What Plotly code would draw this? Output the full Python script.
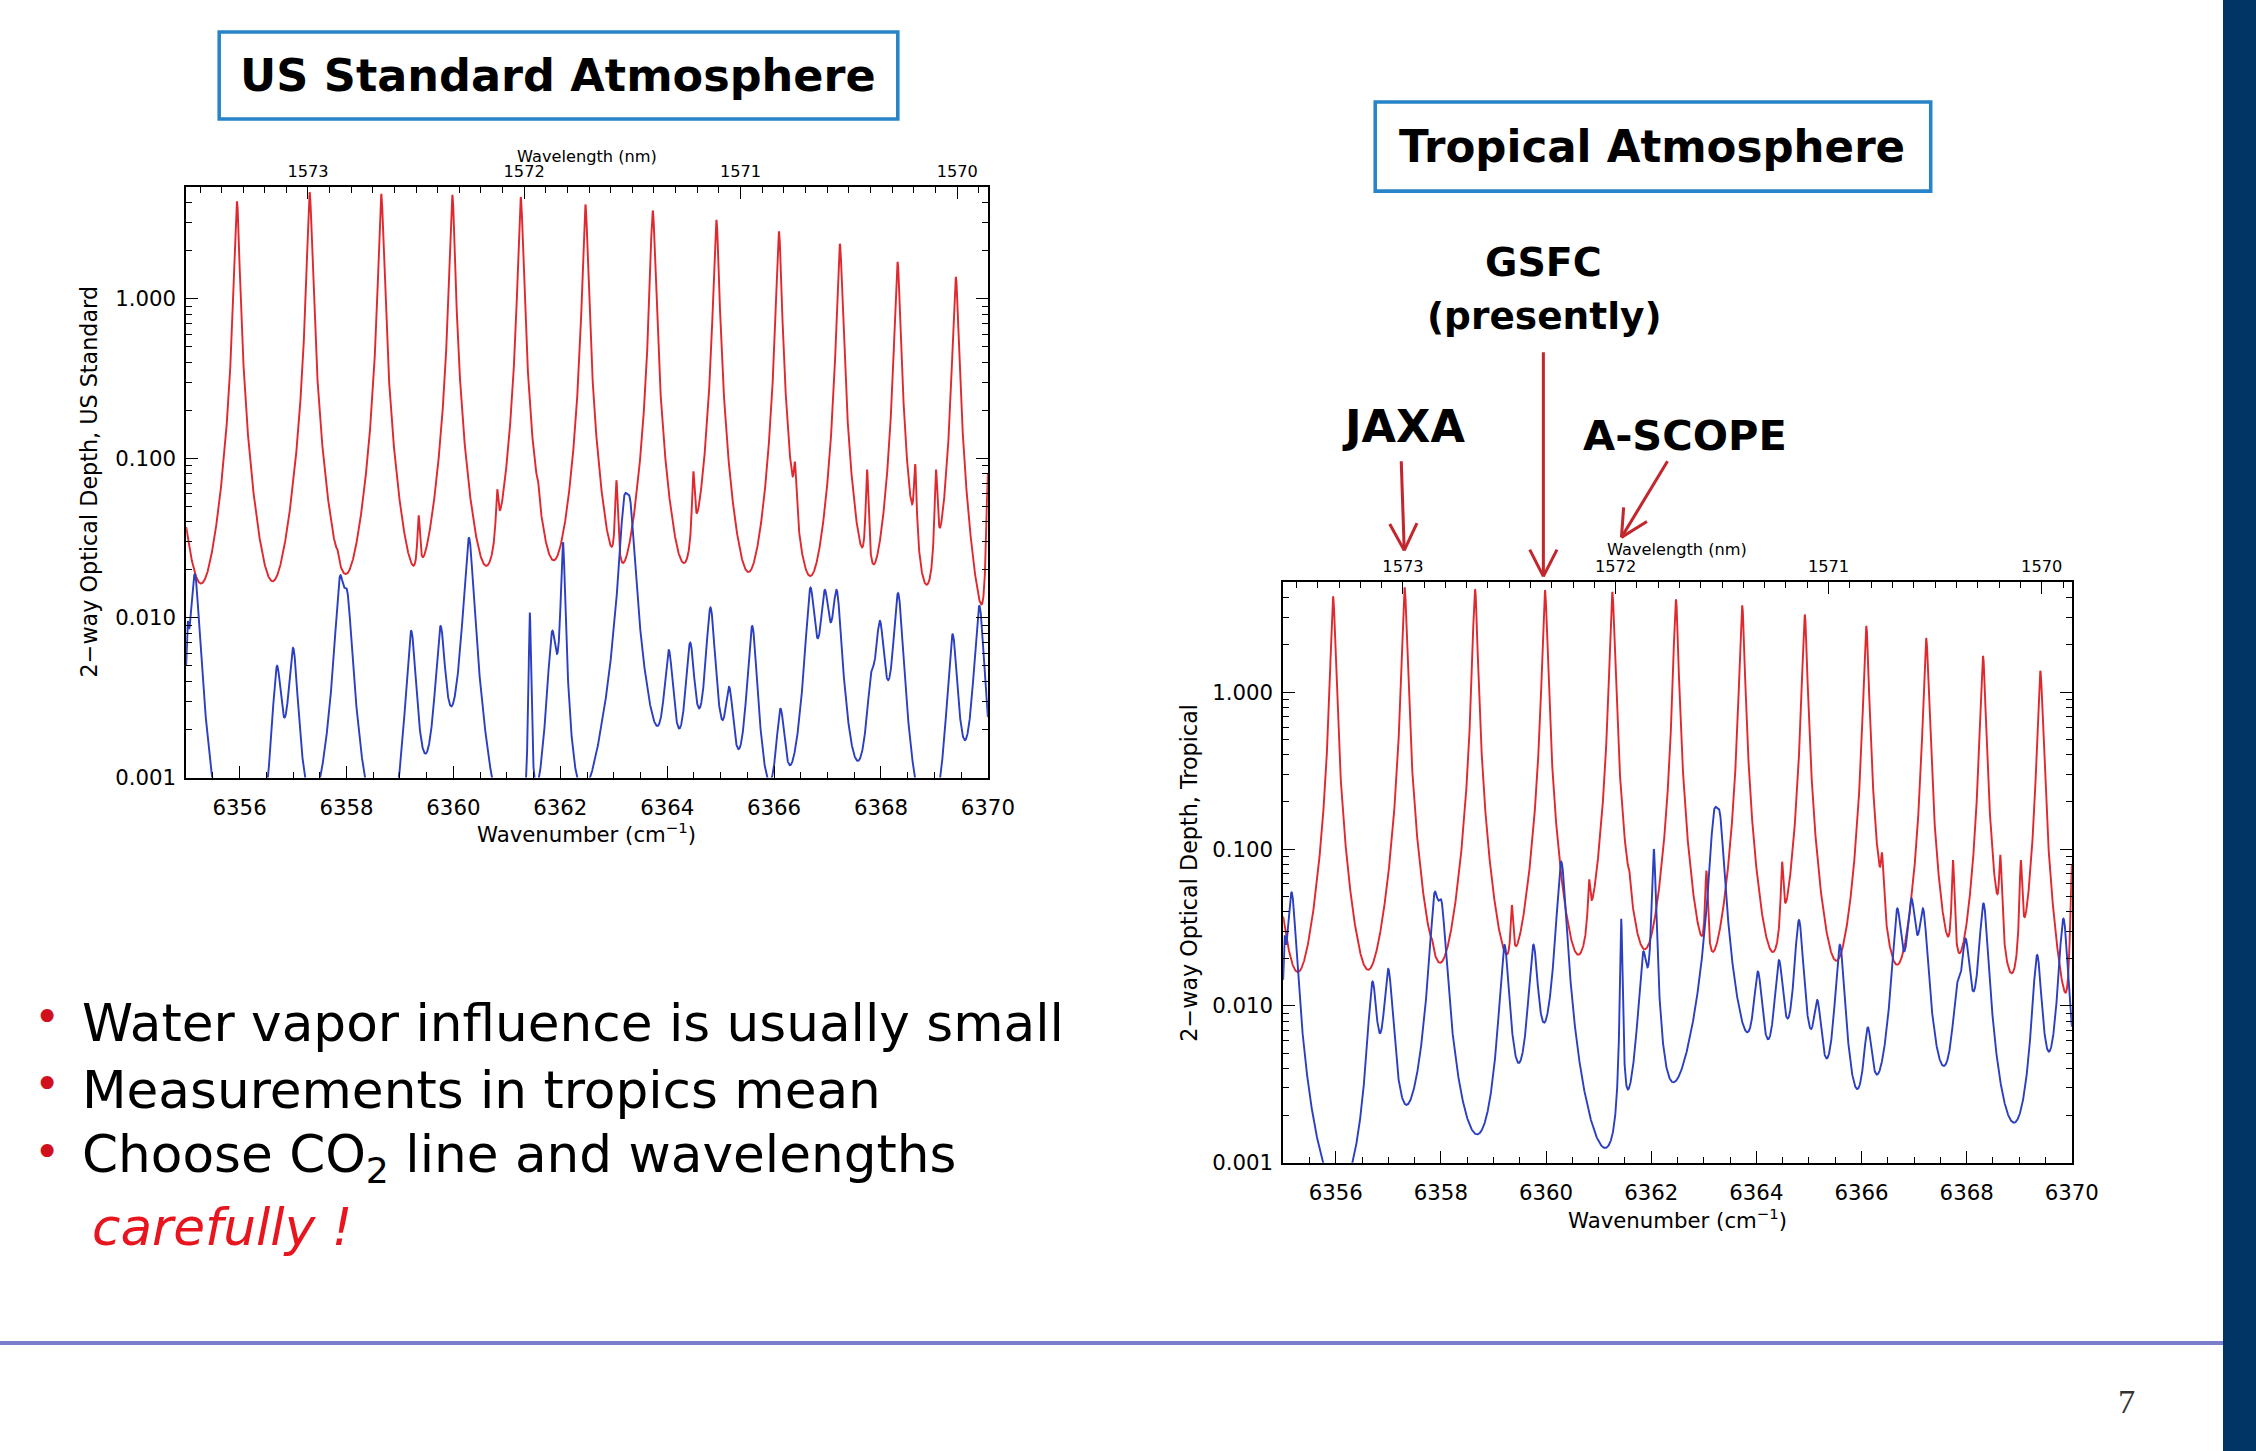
import numpy as np
import plotly.graph_objects as go

# slide layout is written in slide pixels (2256 x 1451); the canvas is a little larger
SW, SH = 2256, 1451
FW, FH = 2285, 1464
FS = FW / SW  # font / stroke scale that goes with the canvas size

# ---------------- spectral line lists ----------------
# CO2 lines: centre (cm-1), two-way optical depth at line centre, Lorentz half width (cm-1)
co2_center = [6354.62, 6355.95, 6357.31, 6358.65, 6359.98, 6361.26, 6362.47,
              6363.73, 6364.92, 6366.09, 6367.23, 6368.31, 6369.40]
co2_peak = [3.80, 4.07, 4.65, 4.53, 4.47, 4.35, 3.90, 3.57, 3.12, 2.64, 2.21, 1.70, 1.37]
co2_width = [0.040, 0.040, 0.040, 0.040, 0.040, 0.040, 0.040,
             0.041, 0.042, 0.042, 0.043, 0.044, 0.045]

# weak CO2 lines riding on the wings of the strong ones
co2_weak_center = [6355.55, 6356.26, 6357.83, 6359.35, 6360.44, 6360.82, 6361.58, 6362.29,
                   6363.05, 6364.49, 6365.91, 6366.39, 6367.74, 6368.64, 6369.03, 6370.00]
co2_weak_peak = [0.035, 0.053, 0.027, 0.044, 0.026, 0.064, 0.075, 0.110,
                 0.073, 0.083, 0.135, 0.095, 0.085, 0.092, 0.085, 0.080]
co2_weak_width = [0.025] * 16

# H2O lines: centres shared by both model atmospheres
h2o_center = [6355.03, 6355.16, 6356.70, 6357.00, 6357.88, 6358.01, 6359.21, 6359.76,
              6360.29, 6361.43, 6361.85, 6362.05, 6363.20, 6363.30, 6364.03, 6364.43,
              6364.81, 6365.16, 6365.59, 6366.12, 6366.68, 6366.95, 6367.17, 6367.82,
              6367.98, 6368.32, 6369.34, 6369.84]
h2o_width = [0.02, 0.08, 0.08, 0.08, 0.08, 0.08, 0.08, 0.08,
             0.08, 0.018, 0.08, 0.035, 0.08, 0.08, 0.08, 0.08,
             0.08, 0.08, 0.08, 0.08, 0.08, 0.08, 0.08, 0.08,
             0.08, 0.08, 0.08, 0.08]
# optical depth at line centre, US Standard atmosphere
h2o_peak_usstd = [0.0095, 0.0188, 0.0050, 0.0065, 0.0184, 0.0150, 0.0083, 0.0089,
                  0.0318, 0.0108, 0.0083, 0.0298, 0.0590, 0.0570, 0.0063, 0.0070,
                  0.0116, 0.0037, 0.0089, 0.0027, 0.0155, 0.0150, 0.0150, 0.0046,
                  0.0096, 0.0143, 0.0079, 0.0119]
# optical depth at line centre, Tropical atmosphere
h2o_peak_trop = [0.0280, 0.0530, 0.0143, 0.0172, 0.0530, 0.0470, 0.0245, 0.0246,
                 0.0830, 0.0360, 0.0222, 0.1000, 0.1800, 0.1750, 0.0166, 0.0196,
                 0.0352, 0.0109, 0.0245, 0.0073, 0.0418, 0.0484, 0.0418, 0.0140,
                 0.0269, 0.0450, 0.0211, 0.0360]

# axis ticks
wn_range = [6355, 6370]
wl_ticks = [1573, 1572, 1571, 1570]
od_ticks = [0.001, 0.01, 0.1, 1.0]
od_ticktext = ["0.001", "0.010", "0.100", "1.000"]


# ---------------- line-by-line model ----------------
def line_shape(d, g, cutoff):
    # Lorentz profile with a sub-Lorentzian far-wing factor
    return g ** 2 / (d ** 2 + g ** 2) * np.exp(-(d / cutoff) ** 2)


def fit_strengths(centers, peaks, widths, cutoff):
    c = np.asarray(centers, float)
    p = np.asarray(peaks, float)
    g = np.asarray(widths, float)
    M = line_shape(c[:, None] - c[None, :], g[None, :], cutoff)
    a = p.copy()
    for _ in range(600):
        a = a * p / (M @ a)
    return a


def spectrum(nu, centers, peaks, widths, cutoff):
    a = fit_strengths(centers, peaks, widths, cutoff)
    c = np.asarray(centers, float)
    g = np.asarray(widths, float)
    return (a[None, :] * line_shape(nu[:, None] - c[None, :], g[None, :], cutoff)).sum(axis=1)


all_centers = co2_center + co2_weak_center + h2o_center
nu = np.linspace(wn_range[0], wn_range[1], 7501)
nu = np.union1d(nu, [c for c in all_centers if wn_range[0] <= c <= wn_range[1]])

tau_co2 = spectrum(nu, co2_center + co2_weak_center, co2_peak + co2_weak_peak,
                   co2_width + co2_weak_width, 0.9)
tau_h2o_us = spectrum(nu, h2o_center, h2o_peak_usstd, h2o_width, 1.2)
tau_h2o_tr = spectrum(nu, h2o_center, h2o_peak_trop, h2o_width, 2.0)

RED = "#e0282e"
BLUE = "#2b3fc2"


def px(x):
    return x / SW


def py(y):
    return 1 - y / SH


def f(v):
    return round(v * FS, 2)


fig = go.Figure()

panels = [
    dict(xb="x", xt="x3", y="y", h2o=tau_h2o_us),
    dict(xb="x2", xt="x4", y="y2", h2o=tau_h2o_tr),
]
for p in panels:
    fig.add_trace(go.Scatter(x=nu, y=tau_co2, mode="lines", xaxis=p["xb"], yaxis=p["y"],
                             line=dict(color=RED, width=f(1.9)), hoverinfo="skip"))
    fig.add_trace(go.Scatter(x=nu, y=p["h2o"], mode="lines", xaxis=p["xb"], yaxis=p["y"],
                             line=dict(color=BLUE, width=f(1.9)), hoverinfo="skip"))
    # carrier for the wavelength axis on top
    fig.add_trace(go.Scatter(x=[wn_range[0]], y=[1e-6], mode="markers", xaxis=p["xt"],
                             yaxis=p["y"], marker=dict(opacity=0), hoverinfo="skip"))

tick_font = dict(family="DejaVu Sans", size=f(21), color="black")
top_font = dict(family="DejaVu Sans", size=f(16), color="black")

wl_vals = [1e7 / w for w in wl_ticks]
wl_minor = [1e7 / (w / 10.0) for w in range(15699, 15736) if w % 10 != 0]
od_minor = [k * 10.0 ** e for e in range(-3, 1) for k in range(2, 10)]

AX = dict(showline=True, linecolor="black", linewidth=f(1.5), ticklen=f(12), tickwidth=f(1.3),
          tickcolor="black", showgrid=False, zeroline=False, ticks="inside")
MINOR = dict(ticks="inside", ticklen=f(6), tickcolor="black", tickwidth=f(1.1))


def bottom_axis(domain, anchor):
    return dict(AX, domain=domain, range=wn_range, anchor=anchor, mirror=False,
                tick0=6356, dtick=2, tickfont=tick_font, ticklabelstandoff=10,
                minor=dict(MINOR, dtick=0.5))


def top_axis(overlay, anchor):
    return dict(AX, overlaying=overlay, anchor=anchor, side="top", range=wn_range,
                tickmode="array", tickvals=wl_vals, ticktext=[str(w) for w in wl_ticks],
                tickfont=top_font, ticklabelstandoff=2,
                minor=dict(MINOR, tickmode="array", tickvals=wl_minor))


def od_axis(domain, anchor):
    return dict(AX, domain=domain, anchor=anchor, type="log", range=[-3, 0.7], mirror="ticks",
                tickmode="array", tickvals=od_ticks, ticktext=od_ticktext, tickfont=tick_font,
                ticklabelstandoff=4, minor=dict(MINOR, tickmode="array", tickvals=od_minor))


fig.update_layout(
    width=FW, height=FH, autosize=False,
    margin=dict(l=0, r=0, t=0, b=0, pad=0),
    paper_bgcolor="white", plot_bgcolor="white", showlegend=False,
    xaxis=bottom_axis([px(186), px(987)], "y"),
    xaxis2=bottom_axis([px(1282), px(2070)], "y2"),
    xaxis3=top_axis("x", "y"), xaxis4=top_axis("x2", "y2"),
    yaxis=od_axis([py(777), py(187)], "x"),
    yaxis2=od_axis([py(1162), py(582)], "x2"),
)

ann = []
shapes = []


def text(x, y, s, size, color="black", family="DejaVu Sans", angle=0, xanchor="center",
         bold=False):
    if bold:
        s = "<b>" + s + "</b>"
    ann.append(dict(x=px(x), y=py(y), xref="paper", yref="paper", text=s, showarrow=False,
                    textangle=angle, xanchor=xanchor, yanchor="middle",
                    font=dict(family=family, size=f(size), color=color)))


# axis titles
text(586, 832, "Wavenumber (cm<sup>−1</sup>)", 21)
text(1676, 1218, "Wavenumber (cm<sup>−1</sup>)", 21)
text(89, 482, "2−way Optical Depth, US Standard", 22, angle=-90)
text(1188, 872, "2−way Optical Depth, Tropical", 22, angle=-90)
text(586, 156, "Wavelength (nm)", 16)
text(1676, 549, "Wavelength (nm)", 16)

# titled boxes
BOX = "#2784c8"
shapes.append(dict(type="rect", xref="paper", yref="paper", x0=px(219), x1=px(897),
                   y0=py(119), y1=py(32), line=dict(color=BOX, width=f(3.5))))
shapes.append(dict(type="rect", xref="paper", yref="paper", x0=px(1374), x1=px(1929),
                   y0=py(191), y1=py(102), line=dict(color=BOX, width=f(3.5))))
text(558, 76, "US Standard Atmosphere", 44, bold=True)
text(1651, 147, "Tropical Atmosphere", 43, bold=True)

# instrument labels and arrows
text(1542, 262, "GSFC", 39, bold=True)
text(1543, 316, "(presently)", 37, bold=True)
text(1402, 427, "JAXA", 44, bold=True)
text(1684, 435, "A-SCOPE", 41, bold=True)

ARROW = "#c1272d"


def arrow(x0, y0, x1, y1, length=30, ang=27):
    shapes.append(dict(type="line", xref="paper", yref="paper", x0=px(x0), y0=py(y0),
                       x1=px(x1), y1=py(y1), line=dict(color=ARROW, width=f(3))))
    ux, uy = x1 - x0, y1 - y0
    n = np.hypot(ux, uy)
    ux, uy = ux / n, uy / n
    for s in (1, -1):
        a = np.radians(ang) * s
        rx = ux * np.cos(a) - uy * np.sin(a)
        ry = ux * np.sin(a) + uy * np.cos(a)
        shapes.append(dict(type="line", xref="paper", yref="paper", x0=px(x1), y0=py(y1),
                           x1=px(x1 - length * rx), y1=py(y1 - length * ry),
                           line=dict(color=ARROW, width=f(3))))


arrow(1542, 352, 1542, 576)
arrow(1400, 461, 1403, 550)
arrow(1666, 461, 1620, 537)

# bullet list
lines_y = [1022, 1089, 1157]
bullets = ["Water vapor influence is usually small",
           "Measurements in tropics mean",
           "Choose CO<sub>2</sub> line and wavelengths"]
for yv, s in zip(lines_y, bullets):
    text(47, yv - 6, "•", 44, color="#d0101c")
    text(80, yv, s, 51, xanchor="left")
text(90, 1226, "<i>carefully !</i>", 51, color="#e8141e", xanchor="left")

# footer rule, side bar and page number
shapes.append(dict(type="line", xref="paper", yref="paper", x0=0, x1=px(2221),
                   y0=py(1342), y1=py(1342), line=dict(color="#7b7fcb", width=f(4))))
shapes.append(dict(type="rect", xref="paper", yref="paper", x0=px(2221), x1=1.0,
                   y0=0, y1=1, line=dict(width=0), fillcolor="#003566"))
text(2125, 1400, "7", 34, color="#333333", family="Liberation Serif")

fig.update_layout(annotations=ann, shapes=shapes)
fig.write_html("out.html")
